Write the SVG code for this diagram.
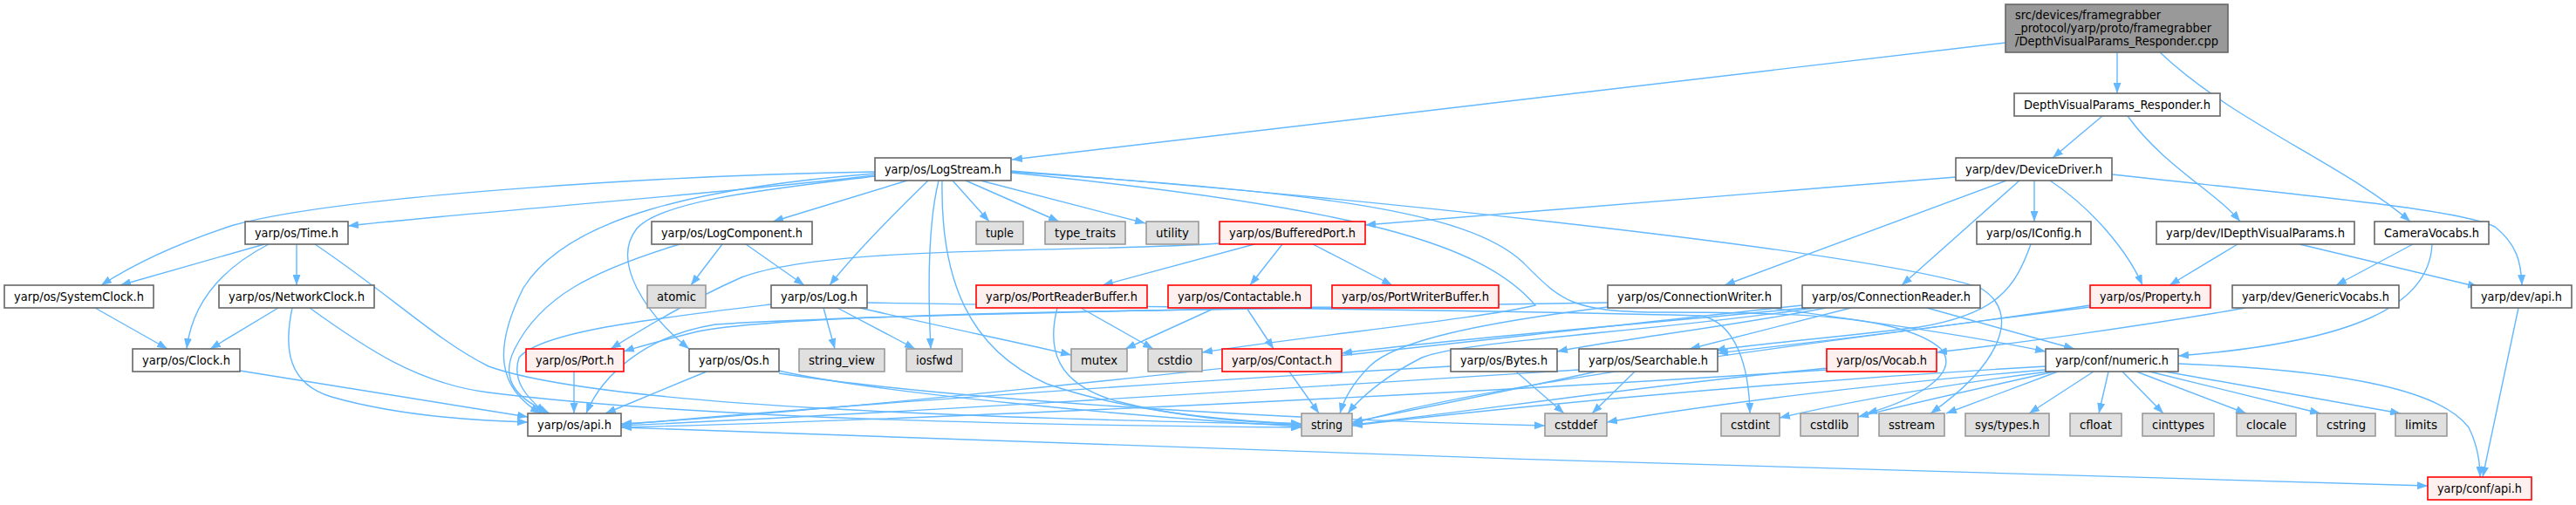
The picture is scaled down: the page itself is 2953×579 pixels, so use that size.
<svg xmlns="http://www.w3.org/2000/svg" width="2953" height="579" viewBox="0 0 2953 579">
<style>
.n rect{fill:#ffffff;stroke:#666666;stroke-width:1.6}
.g rect{fill:#e0e0e0;stroke:#999999;stroke-width:1.6}
.r rect{fill:#fff0f0;stroke:#ff0000;stroke-width:1.6}
.t rect{fill:#999999;stroke:#666666;stroke-width:1.6}
text{font-family:"DejaVu Sans Condensed","DejaVu Sans","Liberation Sans",sans-serif;font-size:14px;fill:#000000}
.c text{text-anchor:middle}
#edges path{fill:none;stroke:#63b8ff;stroke-width:1.4;marker-end:url(#a)}
</style>
<defs>
<marker id="a" viewBox="0 0 12 9" refX="12" refY="4.5" markerWidth="12" markerHeight="9" markerUnits="userSpaceOnUse" orient="auto"><path d="M0,0 L12,4.5 L0,9 z" fill="#63b8ff"/></marker>
</defs>
<rect width="2953" height="579" fill="#ffffff"/>
<g id="edges">
<path d="M2299,49 L1160,183"/>
<path d="M2427,60 L2427,107"/>
<path d="M2476,60 C2560,140 2690,190 2763,254"/>
<path d="M2410,133 L2353,181"/>
<path d="M2439,133 C2480,190 2540,220 2568,254"/>
<path d="M1003,201 C800,225 550,242 399,259"/>
<path d="M1003,197 C800,200 400,222 268,258 C200,280 150,305 116,327"/>
<path d="M1040,207 L886,254"/>
<path d="M1064,207 C1030,240 980,290 951,327"/>
<path d="M1003,202 C900,215 760,228 730,262 C700,300 740,360 790,400"/>
<path d="M1003,199 C800,215 650,250 600,330 C565,400 570,445 620,474"/>
<path d="M1076,207 C1063,260 1064,340 1067,400"/>
<path d="M1080,207 C1078,320 1110,400 1200,440 C1300,475 1420,483 1492,486"/>
<path d="M1092,207 L1134,254"/>
<path d="M1107,207 L1214,254"/>
<path d="M1124,207 L1313,256"/>
<path d="M1159,196 C1600,230 2150,290 2270,330 C2320,360 2290,420 2213,474"/>
<path d="M1159,198 C1560,238 1700,280 1760,350 C1700,365 1500,385 1378,404"/>
<path d="M1159,197 C1500,220 1680,240 1745,300 C1790,345 1800,357 1900,358 C2050,358 2180,360 2225,400 C2250,430 2190,460 2140,474"/>
<path d="M303,280 L138,327"/>
<path d="M308,280 C250,310 220,350 214,400"/>
<path d="M340,280 L340,327"/>
<path d="M361,280 C450,340 500,390 560,420 C700,470 1200,480 1492,487"/>
<path d="M319,353 L241,400"/>
<path d="M335,353 C325,400 330,440 380,455 C450,475 530,482 605,484"/>
<path d="M355,353 C420,400 480,440 560,450 C800,480 1200,488 1492,490"/>
<path d="M109,353 L192,400"/>
<path d="M275,425 L605,478"/>
<path d="M828,280 L792,327"/>
<path d="M855,280 L922,327"/>
<path d="M779,280 C680,310 620,340 590,400 C570,440 600,460 630,474"/>
<path d="M884,349 C750,365 620,380 595,410 C585,440 610,460 625,474"/>
<path d="M944,353 L957,400"/>
<path d="M960,353 L1049,400"/>
<path d="M986,353 C1080,375 1180,395 1228,407"/>
<path d="M994,347 C1300,352 1700,355 1950,362 C1990,370 2005,420 2006,474"/>
<path d="M658,426 L658,474"/>
<path d="M810,426 L694,474"/>
<path d="M893,425 C1000,450 1300,478 1492,489"/>
<path d="M893,428 C1100,460 1500,482 1771,488"/>
<path d="M1398,279 C1250,290 950,280 850,318 C800,340 740,375 700,400"/>
<path d="M1438,280 L1264,327"/>
<path d="M1470,280 L1433,327"/>
<path d="M1505,280 L1596,327"/>
<path d="M1212,353 C1200,400 1210,440 1280,460 C1350,478 1420,484 1492,486"/>
<path d="M1239,353 L1322,400"/>
<path d="M1393,353 L1290,400"/>
<path d="M1429,353 L1460,400"/>
<path d="M1478,426 L1512,474"/>
<path d="M1527,353 C1300,356 900,360 800,380 C760,390 730,398 715,403"/>
<path d="M1843,347 C1500,352 1000,360 820,372 C740,385 690,430 672,474"/>
<path d="M2030,353 C2150,370 2260,385 2345,403"/>
<path d="M1843,352 C1700,370 1600,390 1570,420 C1550,440 1540,460 1536,474"/>
<path d="M2209,353 L2378,400"/>
<path d="M2122,353 L1937,400"/>
<path d="M2093,353 C1980,375 1850,390 1785,403"/>
<path d="M2070,353 C1900,370 1650,390 1538,405"/>
<path d="M2080,353 C1900,380 1680,390 1630,410 C1590,430 1560,455 1545,474"/>
<path d="M2066,350 C1600,400 1000,470 712,486"/>
<path d="M1738,426 L1793,474"/>
<path d="M1663,420 C1300,440 900,470 712,487"/>
<path d="M1874,426 L1825,474"/>
<path d="M1830,426 C1720,450 1620,470 1550,484"/>
<path d="M1810,424 C1400,450 1000,475 712,488"/>
<path d="M2095,424 C1700,450 1100,480 712,490"/>
<path d="M2095,422 C1900,440 1700,470 1550,487"/>
<path d="M2396,350 C2200,380 2050,395 1969,405"/>
<path d="M2396,352 C2100,390 1700,440 1550,486"/>
<path d="M2328,280 C2310,330 2290,360 2200,375 C2080,390 2000,395 1966,402"/>
<path d="M2574,353 C2450,375 2300,395 2220,404"/>
<path d="M2766,280 L2678,327"/>
<path d="M2788,280 C2785,350 2700,392 2497,408"/>
<path d="M2565,280 L2487,327"/>
<path d="M2636,280 L2841,329"/>
<path d="M2421,200 C2650,225 2820,240 2860,260 C2885,280 2890,300 2891,327"/>
<path d="M2350,207 C2400,240 2440,290 2456,327"/>
<path d="M2332,207 L2332,254"/>
<path d="M2315,207 L2180,327"/>
<path d="M2300,207 L1977,327"/>
<path d="M2242,203 L1565,258"/>
<path d="M2887,353 L2846,547"/>
<path d="M2497,417 C2700,425 2800,450 2830,490 C2840,510 2843,530 2843,547"/>
<path d="M712,490 C1200,510 2300,545 2783,557"/>
<path d="M2345,424 C2150,440 1950,465 1842,484"/>
<path d="M2345,420 C2000,440 1700,470 1550,488"/>
<path d="M2348,426 C2200,445 2100,465 2040,479"/>
<path d="M2355,426 C2270,445 2180,465 2130,478"/>
<path d="M2359,426 L2231,474"/>
<path d="M2400,426 L2326,474"/>
<path d="M2417,426 L2406,474"/>
<path d="M2433,426 L2480,474"/>
<path d="M2449,426 L2575,474"/>
<path d="M2464,426 L2660,474"/>
<path d="M2482,426 L2752,474"/>
</g>
<g id="n_cpp" class="t"><rect x="2299" y="5" width="255" height="55"/><text x="2310" y="22" textLength="167" lengthAdjust="spacingAndGlyphs">src/devices/framegrabber</text><text x="2310" y="37" textLength="225" lengthAdjust="spacingAndGlyphs">_protocol/yarp/proto/framegrabber</text><text x="2310" y="52" textLength="233" lengthAdjust="spacingAndGlyphs">/DepthVisualParams_Responder.cpp</text></g>
<g id="n_dvpr" class="n c"><rect x="2309" y="107" width="236" height="26"/><text x="2427" y="125" textLength="214" lengthAdjust="spacingAndGlyphs">DepthVisualParams_Responder.h</text></g>
<g id="n_logstream" class="n c"><rect x="1003" y="181" width="156" height="26"/><text x="1081" y="199" textLength="134" lengthAdjust="spacingAndGlyphs">yarp/os/LogStream.h</text></g>
<g id="n_devdrv" class="n c"><rect x="2242" y="181" width="179" height="26"/><text x="2331.5" y="199" textLength="157" lengthAdjust="spacingAndGlyphs">yarp/dev/DeviceDriver.h</text></g>
<g id="n_time" class="n c"><rect x="281" y="254" width="118" height="26"/><text x="340" y="272" textLength="96" lengthAdjust="spacingAndGlyphs">yarp/os/Time.h</text></g>
<g id="n_logcomp" class="n c"><rect x="747" y="254" width="184" height="26"/><text x="839" y="272" textLength="162" lengthAdjust="spacingAndGlyphs">yarp/os/LogComponent.h</text></g>
<g id="n_tuple" class="g c"><rect x="1119" y="254" width="54" height="26"/><text x="1146" y="272" textLength="32" lengthAdjust="spacingAndGlyphs">tuple</text></g>
<g id="n_typetraits" class="g c"><rect x="1198" y="254" width="92" height="26"/><text x="1244" y="272" textLength="70" lengthAdjust="spacingAndGlyphs">type_traits</text></g>
<g id="n_utility" class="g c"><rect x="1314" y="254" width="60" height="26"/><text x="1344" y="272" textLength="38" lengthAdjust="spacingAndGlyphs">utility</text></g>
<g id="n_bufport" class="r c"><rect x="1398" y="254" width="167" height="26"/><text x="1481.5" y="272" textLength="145" lengthAdjust="spacingAndGlyphs">yarp/os/BufferedPort.h</text></g>
<g id="n_iconfig" class="n c"><rect x="2266" y="254" width="131" height="26"/><text x="2331.5" y="272" textLength="109" lengthAdjust="spacingAndGlyphs">yarp/os/IConfig.h</text></g>
<g id="n_idvp" class="n c"><rect x="2472" y="254" width="227" height="26"/><text x="2585.5" y="272" textLength="205" lengthAdjust="spacingAndGlyphs">yarp/dev/IDepthVisualParams.h</text></g>
<g id="n_camvoc" class="n c"><rect x="2722" y="254" width="131" height="26"/><text x="2787.5" y="272" textLength="109" lengthAdjust="spacingAndGlyphs">CameraVocabs.h</text></g>
<g id="n_sysclock" class="n c"><rect x="5" y="327" width="171" height="26"/><text x="90.5" y="345" textLength="149" lengthAdjust="spacingAndGlyphs">yarp/os/SystemClock.h</text></g>
<g id="n_netclock" class="n c"><rect x="251" y="327" width="178" height="26"/><text x="340" y="345" textLength="156" lengthAdjust="spacingAndGlyphs">yarp/os/NetworkClock.h</text></g>
<g id="n_atomic" class="g c"><rect x="742" y="327" width="67" height="26"/><text x="775.5" y="345" textLength="45" lengthAdjust="spacingAndGlyphs">atomic</text></g>
<g id="n_log" class="n c"><rect x="884" y="327" width="110" height="26"/><text x="939" y="345" textLength="88" lengthAdjust="spacingAndGlyphs">yarp/os/Log.h</text></g>
<g id="n_prb" class="r c"><rect x="1119" y="327" width="196" height="26"/><text x="1217" y="345" textLength="174" lengthAdjust="spacingAndGlyphs">yarp/os/PortReaderBuffer.h</text></g>
<g id="n_contactable" class="r c"><rect x="1339" y="327" width="164" height="26"/><text x="1421" y="345" textLength="142" lengthAdjust="spacingAndGlyphs">yarp/os/Contactable.h</text></g>
<g id="n_pwb" class="r c"><rect x="1527" y="327" width="191" height="26"/><text x="1622.5" y="345" textLength="169" lengthAdjust="spacingAndGlyphs">yarp/os/PortWriterBuffer.h</text></g>
<g id="n_connwriter" class="n c"><rect x="1843" y="327" width="199" height="26"/><text x="1942.5" y="345" textLength="177" lengthAdjust="spacingAndGlyphs">yarp/os/ConnectionWriter.h</text></g>
<g id="n_connreader" class="n c"><rect x="2066" y="327" width="204" height="26"/><text x="2168" y="345" textLength="182" lengthAdjust="spacingAndGlyphs">yarp/os/ConnectionReader.h</text></g>
<g id="n_property" class="r c"><rect x="2396" y="327" width="138" height="26"/><text x="2465" y="345" textLength="116" lengthAdjust="spacingAndGlyphs">yarp/os/Property.h</text></g>
<g id="n_genvoc" class="n c"><rect x="2559" y="327" width="191" height="26"/><text x="2654.5" y="345" textLength="169" lengthAdjust="spacingAndGlyphs">yarp/dev/GenericVocabs.h</text></g>
<g id="n_devapi" class="n c"><rect x="2833" y="327" width="115" height="26"/><text x="2890.5" y="345" textLength="93" lengthAdjust="spacingAndGlyphs">yarp/dev/api.h</text></g>
<g id="n_clock" class="n c"><rect x="152" y="400" width="123" height="26"/><text x="213.5" y="418" textLength="101" lengthAdjust="spacingAndGlyphs">yarp/os/Clock.h</text></g>
<g id="n_port" class="r c"><rect x="603" y="400" width="112" height="26"/><text x="659" y="418" textLength="90" lengthAdjust="spacingAndGlyphs">yarp/os/Port.h</text></g>
<g id="n_os" class="n c"><rect x="790" y="400" width="103" height="26"/><text x="841.5" y="418" textLength="81" lengthAdjust="spacingAndGlyphs">yarp/os/Os.h</text></g>
<g id="n_stringview" class="g c"><rect x="916" y="400" width="98" height="26"/><text x="965" y="418" textLength="76" lengthAdjust="spacingAndGlyphs">string_view</text></g>
<g id="n_iosfwd" class="g c"><rect x="1039" y="400" width="64" height="26"/><text x="1071" y="418" textLength="42" lengthAdjust="spacingAndGlyphs">iosfwd</text></g>
<g id="n_mutex" class="g c"><rect x="1228" y="400" width="64" height="26"/><text x="1260" y="418" textLength="42" lengthAdjust="spacingAndGlyphs">mutex</text></g>
<g id="n_cstdio" class="g c"><rect x="1316" y="400" width="62" height="26"/><text x="1347" y="418" textLength="40" lengthAdjust="spacingAndGlyphs">cstdio</text></g>
<g id="n_contact" class="r c"><rect x="1401" y="400" width="137" height="26"/><text x="1469.5" y="418" textLength="115" lengthAdjust="spacingAndGlyphs">yarp/os/Contact.h</text></g>
<g id="n_bytes" class="n c"><rect x="1663" y="400" width="122" height="26"/><text x="1724" y="418" textLength="100" lengthAdjust="spacingAndGlyphs">yarp/os/Bytes.h</text></g>
<g id="n_searchable" class="n c"><rect x="1810" y="400" width="159" height="26"/><text x="1889.5" y="418" textLength="137" lengthAdjust="spacingAndGlyphs">yarp/os/Searchable.h</text></g>
<g id="n_vocab" class="r c"><rect x="2094" y="400" width="126" height="26"/><text x="2157" y="418" textLength="104" lengthAdjust="spacingAndGlyphs">yarp/os/Vocab.h</text></g>
<g id="n_numeric" class="n c"><rect x="2345" y="400" width="152" height="26"/><text x="2421" y="418" textLength="130" lengthAdjust="spacingAndGlyphs">yarp/conf/numeric.h</text></g>
<g id="n_osapi" class="n c"><rect x="605" y="474" width="107" height="26"/><text x="658.5" y="492" textLength="85" lengthAdjust="spacingAndGlyphs">yarp/os/api.h</text></g>
<g id="n_string" class="g c"><rect x="1492" y="474" width="58" height="26"/><text x="1521" y="492" textLength="36" lengthAdjust="spacingAndGlyphs">string</text></g>
<g id="n_cstddef" class="g c"><rect x="1771" y="474" width="71" height="26"/><text x="1806.5" y="492" textLength="49" lengthAdjust="spacingAndGlyphs">cstddef</text></g>
<g id="n_cstdint" class="g c"><rect x="1973" y="474" width="67" height="26"/><text x="2006.5" y="492" textLength="45" lengthAdjust="spacingAndGlyphs">cstdint</text></g>
<g id="n_cstdlib" class="g c"><rect x="2064" y="474" width="66" height="26"/><text x="2097" y="492" textLength="44" lengthAdjust="spacingAndGlyphs">cstdlib</text></g>
<g id="n_sstream" class="g c"><rect x="2154" y="474" width="75" height="26"/><text x="2191.5" y="492" textLength="53" lengthAdjust="spacingAndGlyphs">sstream</text></g>
<g id="n_systypes" class="g c"><rect x="2253" y="474" width="96" height="26"/><text x="2301" y="492" textLength="74" lengthAdjust="spacingAndGlyphs">sys/types.h</text></g>
<g id="n_cfloat" class="g c"><rect x="2373" y="474" width="59" height="26"/><text x="2402.5" y="492" textLength="37" lengthAdjust="spacingAndGlyphs">cfloat</text></g>
<g id="n_cinttypes" class="g c"><rect x="2456" y="474" width="82" height="26"/><text x="2497" y="492" textLength="60" lengthAdjust="spacingAndGlyphs">cinttypes</text></g>
<g id="n_clocale" class="g c"><rect x="2564" y="474" width="68" height="26"/><text x="2598" y="492" textLength="46" lengthAdjust="spacingAndGlyphs">clocale</text></g>
<g id="n_cstring" class="g c"><rect x="2656" y="474" width="67" height="26"/><text x="2689.5" y="492" textLength="45" lengthAdjust="spacingAndGlyphs">cstring</text></g>
<g id="n_limits" class="g c"><rect x="2746" y="474" width="59" height="26"/><text x="2775.5" y="492" textLength="37" lengthAdjust="spacingAndGlyphs">limits</text></g>
<g id="n_confapi" class="r c"><rect x="2783" y="547" width="119" height="26"/><text x="2842.5" y="565" textLength="97" lengthAdjust="spacingAndGlyphs">yarp/conf/api.h</text></g>
</svg>
